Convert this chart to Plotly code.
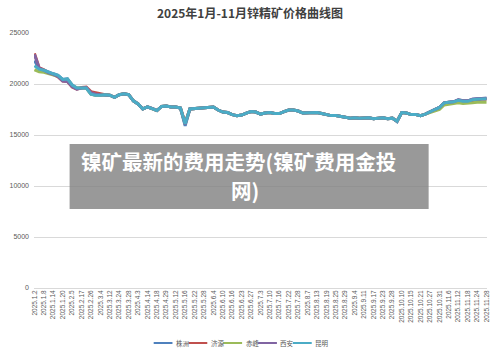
import plotly.graph_objects as go

dates = ["2025.1.2","2025.1.6","2025.1.8","2025.1.10","2025.1.14","2025.1.16","2025.1.20","2025.1.23",
         "2025.2.5","2025.2.11","2025.2.17","2025.2.21","2025.2.26","2025.2.28","2025.3.4","2025.3.7",
         "2025.3.12","2025.3.18","2025.3.24","2025.3.26","2025.3.28","2025.4.1","2025.4.3","2025.4.9",
         "2025.4.14","2025.4.16","2025.4.18","2025.4.23","2025.4.29","2025.5.7","2025.5.12","2025.5.14",
         "2025.5.16","2025.5.20","2025.5.22","2025.5.26","2025.5.28","2025.5.30","2025.6.4","2025.6.6",
         "2025.6.10","2025.6.12","2025.6.16","2025.6.19","2025.6.23","2025.6.25","2025.6.27","2025.7.1",
         "2025.7.3","2025.7.7","2025.7.10","2025.7.14","2025.7.16","2025.7.18","2025.7.22","2025.7.24",
         "2025.7.28","2025.8.1","2025.8.7","2025.8.11","2025.8.13","2025.8.15","2025.8.19","2025.8.21",
         "2025.8.25","2025.8.27","2025.8.29","2025.9.2","2025.9.4","2025.9.8","2025.9.11","2025.9.15",
         "2025.9.17","2025.9.19","2025.9.23","2025.9.25","2025.9.28","2025.10.9","2025.10.10","2025.10.13",
         "2025.10.15","2025.10.17","2025.10.21","2025.10.23","2025.10.27","2025.10.29","2025.10.31","2025.11.4",
         "2025.11.6","2025.11.10","2025.11.12","2025.11.14","2025.11.18","2025.11.20","2025.11.24","2025.11.26",
         "2025.11.28"]

tick_labels = ["2025.1.2","2025.1.8","2025.1.14","2025.1.20","2025.2.5","2025.2.17","2025.2.26","2025.3.4",
               "2025.3.12","2025.3.24","2025.3.28","2025.4.3","2025.4.14","2025.4.18","2025.4.29","2025.5.12",
               "2025.5.16","2025.5.22","2025.5.28","2025.6.4","2025.6.10","2025.6.16","2025.6.23","2025.6.27",
               "2025.7.3","2025.7.10","2025.7.16","2025.7.22","2025.7.28","2025.8.7","2025.8.13","2025.8.19",
               "2025.8.25","2025.8.29","2025.9.4","2025.9.11","2025.9.17","2025.9.23","2025.9.28","2025.10.10",
               "2025.10.15","2025.10.21","2025.10.27","2025.10.31","2025.11.6","2025.11.12","2025.11.18",
               "2025.11.24","2025.11.28"]

zhuzhou = [22300,21500,21350,21150,21000,20850,20450,20500,19900,19600,19600,19600,19000,18900,18900,18950,
           18900,18700,18950,19050,18950,18350,18050,17550,17750,17600,17400,17800,17850,17750,17750,17650,
           15900,17550,17600,17600,17650,17750,17750,17450,17250,17200,17000,16900,16950,17150,17300,17250,
           17050,17150,17200,17100,17100,17300,17450,17450,17350,17150,17150,17200,17200,17100,17000,16900,
           16900,16850,16750,16650,16700,16650,16700,16700,16600,16650,16700,16600,16650,16300,17200,17150,
           17000,17000,16900,17050,17300,17500,17700,18150,18200,18250,18450,18350,18350,18500,18550,18600,
           18600]

jiyuan = [23000,21600,21400,21100,20950,20700,20300,20250,19700,19500,19650,19700,19250,19150,19000,18950,
          18900,18700,18950,19050,18950,18350,18050,17550,17750,17600,17400,17800,17850,17750,17750,17650,
          16200,17550,17600,17600,17650,17750,17750,17450,17250,17200,17000,16900,16950,17150,17300,17250,
          17050,17150,17200,17100,17100,17300,17450,17450,17350,17150,17150,17200,17200,17100,17000,16900,
          16900,16850,16750,16650,16700,16650,16700,16700,16600,16650,16700,16600,16650,16350,17200,17150,
          17000,17000,16900,17050,17300,17500,17700,18150,18200,18250,18400,18300,18300,18400,18450,18500,
          18500]

chifeng = [21400,21200,21150,21000,20850,20750,20400,20450,19850,19600,19600,19600,19000,18900,18900,18950,
           18900,18700,18950,19050,18950,18350,18050,17550,17750,17600,17400,17800,17850,17750,17750,17650,
           16100,17550,17600,17600,17650,17750,17750,17450,17250,17200,17000,16900,16950,17150,17300,17250,
           17050,17150,17200,17100,17100,17300,17450,17450,17350,17150,17150,17200,17200,17100,17000,16900,
           16900,16850,16750,16650,16700,16650,16700,16700,16600,16650,16700,16600,16650,16350,17200,17150,
           17000,17000,16900,17050,17200,17300,17500,17950,18000,18050,18150,18100,18100,18150,18200,18200,
           18200]

xian = [22900,21550,21350,21100,20950,20750,20300,20250,19750,19500,19600,19650,19150,19000,18950,18950,
        18900,18700,18950,19050,18950,18350,18050,17550,17750,17600,17400,17800,17850,17750,17750,17650,
        16050,17550,17600,17600,17650,17750,17750,17450,17250,17200,17000,16900,16950,17150,17300,17250,
        17050,17150,17200,17100,17100,17300,17450,17450,17350,17150,17150,17200,17200,17100,17000,16900,
        16900,16850,16750,16650,16700,16650,16700,16700,16600,16650,16700,16600,16650,16350,17200,17150,
        17000,17000,16900,17050,17300,17500,17700,18150,18200,18250,18450,18350,18350,18500,18550,18600,
        18600]

kunming = [21800,21450,21350,21150,21000,20850,20450,20500,19900,19600,19600,19600,19000,18900,18900,18950,
           18900,18700,18950,19050,18950,18350,18050,17550,17750,17600,17400,17800,17850,17750,17750,17650,
           16100,17550,17600,17600,17650,17750,17750,17450,17250,17200,17000,16900,16950,17150,17300,17250,
           17050,17150,17200,17100,17100,17300,17450,17450,17350,17150,17150,17200,17200,17100,17000,16900,
           16900,16850,16750,16650,16700,16650,16700,16700,16600,16650,16700,16600,16650,16350,17200,17150,
           17000,17000,16900,17050,17300,17500,17700,18150,18200,18250,18400,18300,18300,18450,18500,18550,
           18550]

names = ["株洲", "济源", "赤峰", "西安", "昆明"]
series = [zhuzhou, jiyuan, chifeng, xian, kunming]
colors = ["#4F81BD", "#C0504D", "#9BBB59", "#8064A2", "#4BACC6"]

overlay_lines = ["镍矿最新的费用走势(镍矿费用金投", "网)"]

W, H = 500, 354
L, R, T, B = 32, 10, 33, 66
PW, PH = W - L - R, H - T - B

def px(x):
    return (x - L) / PW

def py(y):
    return (H - B - y) / PH

fig = go.Figure()
for n, s, c in zip(names, series, colors):
    fig.add_trace(go.Scatter(x=dates, y=s, name=n, mode="lines",
                             line=dict(color=c, width=3), showlegend=False))

fig.update_layout(
    width=W, height=H,
    margin=dict(l=L, r=R, t=T, b=B),
    paper_bgcolor="white", plot_bgcolor="white",
    title=dict(text="<b>2025年1月-11月锌精矿价格曲线图</b>", x=0.5, xanchor="center",
               y=1 - 14 / H, yanchor="middle",
               font=dict(family="Noto Sans CJK SC", size=12, color="#404040")),
    font=dict(family="Noto Sans CJK SC", color="#595959"),
)

fig.update_xaxes(type="category", categoryorder="array", categoryarray=dates,
                 tickmode="array", tickvals=tick_labels, ticktext=tick_labels,
                 tickangle=-90, tickfont=dict(size=6.5, color="#595959", family="Liberation Sans"),
                 showgrid=False, showline=False, ticks="", range=[-0.1, len(dates) - 0.9],
                 fixedrange=True)
fig.update_yaxes(range=[0, 25000], dtick=5000, showgrid=True, gridcolor="#D9D9D9", gridwidth=1,
                 zeroline=True, zerolinecolor="#D9D9D9", zerolinewidth=1,
                 tickfont=dict(size=7, color="#595959", family="Liberation Sans"),
                 ticks="", ticklabelstandoff=4, showline=False, tickformat="d")

# legend (manual, drawn in paper coordinates)
leg_y = 343
x0 = 153
step = 35.2
for i, (n, c) in enumerate(zip(names, colors)):
    xs = x0 + i * step
    fig.add_shape(type="line", xref="paper", yref="paper",
                  x0=px(xs), x1=px(xs + 19), y0=py(leg_y), y1=py(leg_y),
                  line=dict(color=c, width=2))
    fig.add_annotation(text=n, xref="paper", yref="paper", x=px(xs + 20.5), y=py(leg_y),
                       xanchor="left", yanchor="middle", showarrow=False,
                       font=dict(size=6.5, color="#595959", family="Noto Sans CJK SC"))

# overlay watermark box
fig.add_shape(type="rect", xref="paper", yref="paper", layer="above",
              x0=px(68), x1=px(431), y0=py(209), y1=py(144),
              fillcolor="rgba(128,128,128,0.8)", line=dict(width=0))
for txt, cx, cy in zip(overlay_lines, [239, 245], [161, 190]):
    fig.add_annotation(text="<b>" + txt + "</b>", xref="paper", yref="paper",
                       x=px(cx), y=py(cy), xanchor="center", yanchor="middle", showarrow=False,
                       font=dict(size=20.5, color="white", family="Noto Sans CJK SC"))

fig.write_html("out.html")
